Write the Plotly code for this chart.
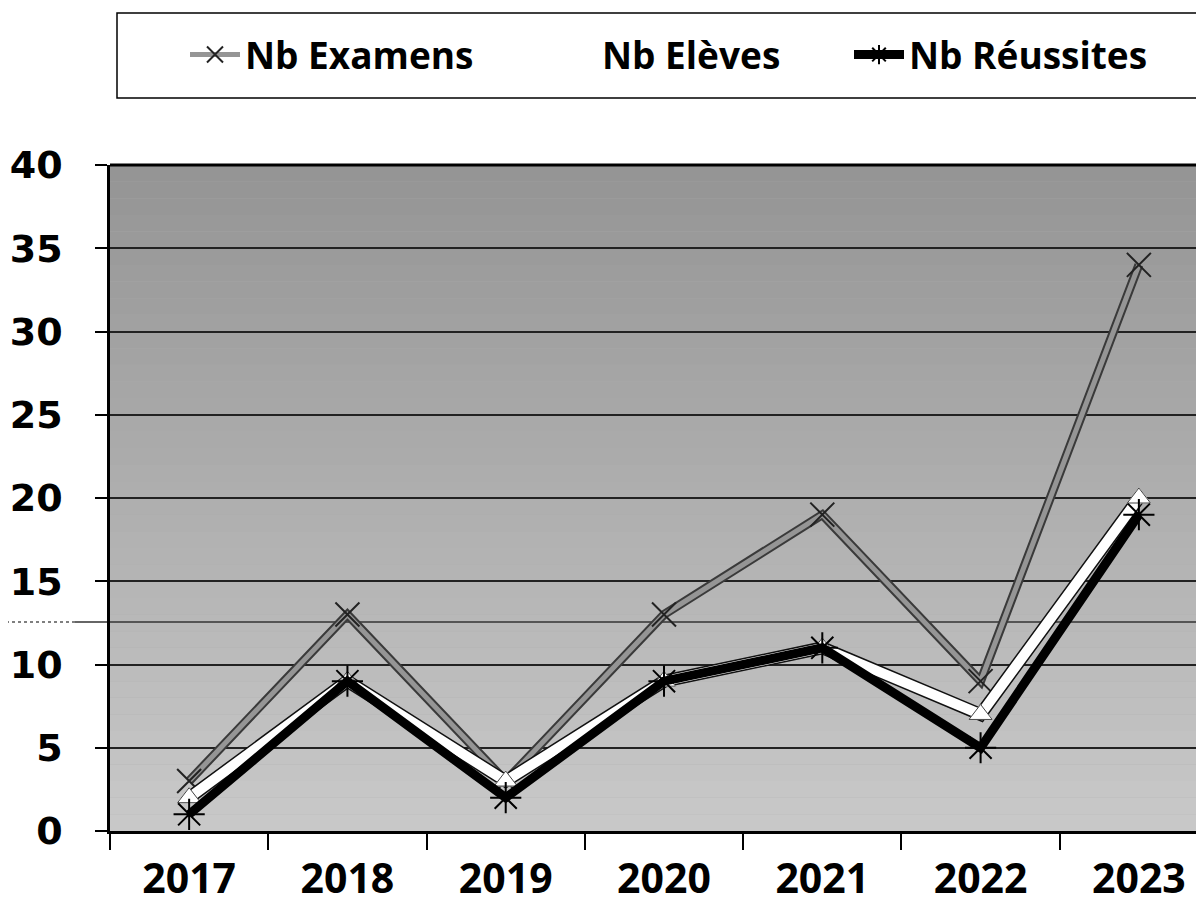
import plotly.graph_objects as go

years = ["2017", "2018", "2019", "2020", "2021", "2022", "2023"]
nb_examens = [3, 13, 3, 13, 19, 9, 34]
nb_eleves = [2, 9, 3, 9, 11, 7, 20]
nb_reussites = [1, 9, 2, 9, 11, 5, 19]
y_ticks = [0, 5, 10, 15, 20, 25, 30, 35, 40]

# page body has an 8px margin; figure is sized so it fills the 1204x913 window
OFF = 8
W, H = 1204 - OFF, 913 - OFF
# plot area in screen pixels
PL, PR, PT, PB = 110, 1204, 165, 831
def px(x):
    return (x - PL) / (PR - PL)
def py(y):
    return (PB - y) / (PB - PT)

fig = go.Figure()

# Nb Examens: dark edge underlay + grey core
fig.add_trace(go.Scatter(x=years, y=nb_examens, mode="lines", showlegend=False,
                         line=dict(color="#3a3a3a", width=9), hoverinfo="skip"))
fig.add_trace(go.Scatter(x=years, y=nb_examens, mode="lines+markers", name="Nb Examens",
                         legend="legend",
                         line=dict(color="#959595", width=5),
                         marker=dict(symbol="x-thin", size=24, color="#222",
                                     line=dict(width=2, color="#222"))))
# Nb Elèves: black edge + white core
fig.add_trace(go.Scatter(x=years, y=nb_eleves, mode="lines", showlegend=False,
                         line=dict(color="#111", width=13), hoverinfo="skip"))
fig.add_trace(go.Scatter(x=years, y=nb_eleves, mode="lines+markers", name="Nb Elèves",
                         legend="legend2",
                         line=dict(color="white", width=10),
                         marker=dict(symbol="triangle-up", size=20, color="white",
                                     line=dict(width=1, color="white"))))
fig.add_trace(go.Scatter(x=years, y=nb_eleves, mode="markers", showlegend=False,
                         marker=dict(symbol="triangle-up", size=20, color="white",
                                     line=dict(width=1, color="#444")), hoverinfo="skip"))
# Nb Réussites: thick black
fig.add_trace(go.Scatter(x=years, y=nb_reussites, mode="lines+markers", name="Nb Réussites",
                         legend="legend3",
                         line=dict(color="black", width=9),
                         marker=dict(symbol="asterisk-open", size=26, color="black",
                                     line=dict(width=2, color="black"))))

shapes = []
# vertical gradient background bands
n = 40
top = (0x94, 0x94, 0x94)
bot = (0xc9, 0xc9, 0xc9)
for i in range(n):
    t = (i + 0.5) / n
    c = tuple(int(round(top[k] + (bot[k] - top[k]) * t)) for k in range(3))
    shapes.append(dict(type="rect", xref="paper", yref="paper",
                       x0=0, x1=1, y0=1 - (i + 1) / n, y1=1 - i / n,
                       fillcolor="rgb(%d,%d,%d)" % c, line=dict(width=0), layer="below"))
# stray scan line
shapes.append(dict(type="line", xref="paper", yref="y", x0=px(0), x1=px(75), y0=12.55, y1=12.55,
                   line=dict(color="#555", width=1.5, dash="dot")))
shapes.append(dict(type="line", xref="paper", yref="y", x0=px(75), x1=1, y0=12.55, y1=12.55,
                   line=dict(color="#333", width=1.5), layer="between"))
# thick top border
shapes.append(dict(type="line", xref="paper", yref="paper", x0=0, x1=1, y0=1, y1=1,
                   line=dict(color="black", width=3)))
# legend box
shapes.append(dict(type="rect", xref="paper", yref="paper",
                   x0=px(117), x1=px(1215), y0=py(98), y1=py(13),
                   line=dict(color="black", width=1.5), fillcolor="rgba(0,0,0,0)"))

legend_font = dict(family="Open Sans", size=37, color="black", weight="bold")
leg_common = dict(orientation="h", xanchor="left", yanchor="middle", y=py(55),
                  font=legend_font, bgcolor="rgba(0,0,0,0)", borderwidth=0, itemwidth=50)

fig.update_layout(
    width=W, height=H,
    margin=dict(l=PL - OFF, r=W - (PR - OFF), t=PT - OFF, b=H - (PB - OFF), pad=0),
    paper_bgcolor="white",
    plot_bgcolor="#adadad",
    shapes=shapes,
    legend=dict(x=px(185), **leg_common),
    legend2=dict(x=px(542), **leg_common),
    legend3=dict(x=px(849), **leg_common),
    xaxis=dict(type="category", categoryorder="array", categoryarray=years,
               range=[-0.5, 6.5 - (1218 - PR) / 158.0],
               tickson="boundaries", ticks="outside", ticklen=16, tickwidth=2, tickcolor="black",
               showgrid=False, showline=True, linecolor="black", linewidth=2.5,
               tickfont=dict(family="Open Sans", size=41, color="black", weight="bold"),
               ticklabelstandoff=10, automargin=False, zeroline=False),
    yaxis=dict(range=[0, 40], tickvals=y_ticks, ticks="outside", ticklen=12, tickwidth=2,
               tickcolor="black", showgrid=True, gridcolor="#222", gridwidth=1.5,
               showline=True, linecolor="black", linewidth=2.5, zeroline=False,
               tickfont=dict(family="DejaVu Sans", size=38, color="black", weight="bold"),
               ticklabelstandoff=25, automargin=False),
)

fig.write_html("out.html")
